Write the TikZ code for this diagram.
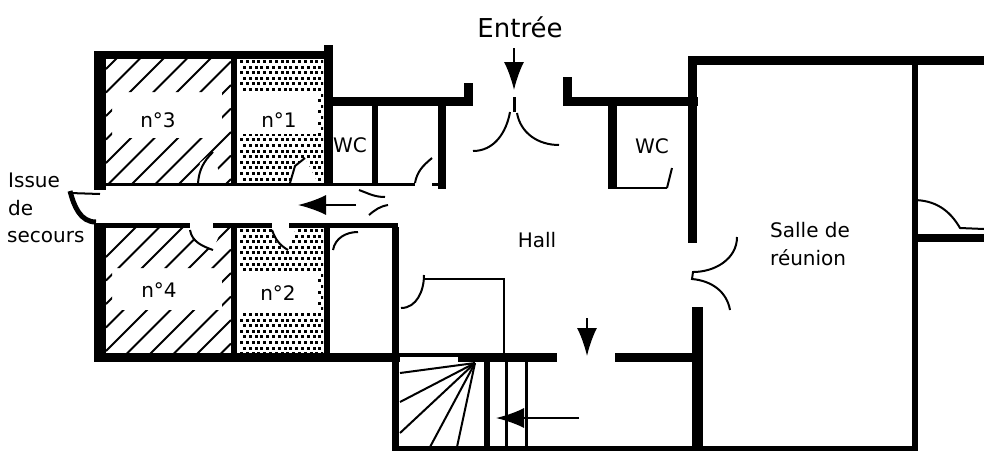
\documentclass[tikz,border=0pt]{standalone}
\usepackage{fontspec}
\setmainfont{DejaVu Sans}
\usetikzlibrary{arrows.meta}
\tikzset{>={Latex[width=20pt,length=28pt]}}
\tikzset{label text/.style={inner sep=0pt,anchor=base,font=\fontsize{20}{24}\selectfont}}
\tikzset{door line/.style={line width=2pt}}
\tikzset{stair line/.style={line width=2pt}}
\tikzset{hatch line/.style={line width=1.8pt}}
\newcommand{\WALL}[4]{\fill[black] (#1,#2) rectangle (#3,#4);}

\begin{document}
\begin{tikzpicture}[x=1pt,y=-1pt]
  \useasboundingbox (0,0) rectangle (984,451);

  %% hatching of rooms 3 and 4
  \begin{scope}
    \clip (106,59) rectangle (231,92) (106,138) rectangle (231,183)
    (106,92) rectangle (112,138) (222,92) rectangle (231,138);
    \foreach \c in {0,...,11}
    \draw[hatch line] (106,175+23.5*\c-106) -- (231,175+23.5*\c-231);
  \end{scope}
  \begin{scope}
    \clip (106,228) rectangle (231,268) (106,310) rectangle (231,353)
    (106,268) rectangle (112,310) (222,268) rectangle (231,310);
    \foreach \c in {0,...,14}
    \draw[hatch line] (106,363+23.5*\c-106) -- (231,363+23.5*\c-231);
  \end{scope}

  %% dots of rooms 1 and 2
  \begin{scope}
    \clip (238,59) rectangle (323,91) (238,134) rectangle (323,183)
    (318,91) rectangle (323,134);
    \foreach \r in {0,...,22}
    \foreach \c in {0,...,14}
    \fill ({240+5.8*\c+2.9*mod(\r,2)},{60+5.6*\r}) rectangle +(3,3);
  \end{scope}
  \begin{scope}
    \clip (238,228) rectangle (323,271) (238,313) rectangle (323,353)
    (318,271) rectangle (323,313);
    \foreach \r in {0,...,22}
    \foreach \c in {0,...,14}
    \fill ({240+5.8*\c+2.9*mod(\r,2)},{229+5.6*\r}) rectangle +(3,3);
  \end{scope}

  %% doors cut in the fills
  \fill[white] (198,183) -- (200,163) -- (213,152) -- (222,183) -- cycle;
  \fill[white] (290,183) -- (295,165) -- (305,158) -- (318,183) -- cycle;
  \fill[white] (190,228) -- (195,242) -- (213,250) -- (222,228) -- cycle;
  \fill[white] (272,228) -- (277,243) -- (288,250) -- (296,228) -- cycle;
  \draw[door line] (198,183) to[out=85,in=-135] (213,152);
  \draw[door line] (290,183) -- (295,166) -- (305,158);
  \draw[door line] (190,230) to[out=-80,in=160] (213,250);
  \draw[door line] (272,230) to[out=-70,in=150] (288,250);

  %% left block
  \WALL{94}{51}{333}{59}
  \WALL{94}{51}{106}{190}
  \WALL{231}{59}{237}{184}
  \WALL{324}{45}{333}{184}
  \WALL{94}{183}{415}{186}
  \WALL{432}{183}{438}{186}
  \WALL{94}{223}{190}{228}
  \WALL{213}{223}{272}{228}
  \WALL{289}{223}{398}{228}
  \WALL{94}{223}{106}{362}
  \WALL{231}{228}{237}{353}
  \WALL{324}{228}{330}{353}
  \WALL{94}{353}{400}{362}

  %% upper corridor and toilets
  \WALL{333}{97}{473}{106}
  \WALL{464}{83}{473}{106}
  \WALL{372}{106}{378}{183}
  \WALL{438}{106}{446}{189}
  \WALL{563}{77}{572}{106}
  \WALL{563}{97}{698}{106}
  \WALL{608}{106}{617}{189}
  \WALL{617}{187}{667}{189}

  %% meeting room
  \WALL{688}{56}{984}{65}
  \WALL{688}{65}{697}{243}
  \WALL{692}{307}{703}{451}
  \WALL{912}{65}{918}{451}
  \WALL{912}{234}{984}{242}
  \WALL{392}{446}{918}{451}

  %% hall
  \WALL{392}{227}{399}{451}
  \WALL{400}{353}{458}{357}
  \WALL{458}{353}{557}{362}
  \WALL{615}{353}{692}{362}
  \draw[door line] (425,279) -- (504,279) -- (504,353);

  %% door swings
  \draw[door line] (510,112) to[out=-100,in=0] (473,151);
  \draw[door line] (517,113) to[out=-80,in=180] (559,145);
  \draw[line width=3pt] (514,97) -- (514,112);
  \draw[door line] (415,183) to[out=80,in=-140] (432,158);
  \draw[door line] (667,188) -- (672,168);
  \draw[door line] (424,275) to[out=-90,in=0] (401,308);
  \draw[door line] (358,232) to[out=180,in=80] (333,250);
  \draw[door line] (359,190) to[out=-20,in=180] (385,197);
  \draw[door line] (369,215) to[out=40,in=190] (388,205);
  \draw[door line] (737,237) to[out=-90,in=0] (693,272) -- (692,279) to[out=-5,in=100] (730,310);
  \draw[door line] (913,200) to[out=0,in=120] (960,228) -- (984,229);
  \draw[line width=5pt] (70,191) to[out=-75,in=180] (96,222);
  \draw[door line] (70,193) -- (100,194);

  %% stairs
  \foreach \px/\py in {400/373,400/402,400/433,430/447,457/447}
  \draw[stair line] (\px,\py) -- (475,363);
  \WALL{484}{362}{490}{446}
  \WALL{505}{362}{508}{446}
  \WALL{525}{362}{528}{446}

  %% arrows
  \draw[->,line width=2pt] (514,48) -- (514,90);
  \draw[->,line width=2pt] (356,205) -- (298,205);
  \draw[->,line width=2pt] (579,418) -- (496,418);
  \draw[->,line width=2pt] (587,318) -- (587,356);

  %% texts
  \node[label text,font=\fontsize{26}{30}\selectfont] (entree) at (520,37) {Entrée};
  \node[label text] (nthree) at (158,127) {n°3};
  \node[label text] (none) at (279,127) {n°1};
  \node[label text] (wcleft) at (350,152) {WC};
  \node[label text] (wcright) at (652,153) {WC};
  \node[label text,anchor=base west] (issue) at (8,187) {Issue};
  \node[label text,anchor=base west] (de) at (8,215) {de};
  \node[label text,anchor=base west] (secours) at (7,242) {secours};
  \node[label text] (hall) at (537,247) {Hall};
  \node[label text,anchor=base west] (salle) at (770,237) {Salle de};
  \node[label text,anchor=base west] (reunion) at (770,265) {réunion};
  \node[label text] (nfour) at (159,297) {n°4};
  \node[label text] (ntwo) at (278,300) {n°2};
\end{tikzpicture}
\end{document}
